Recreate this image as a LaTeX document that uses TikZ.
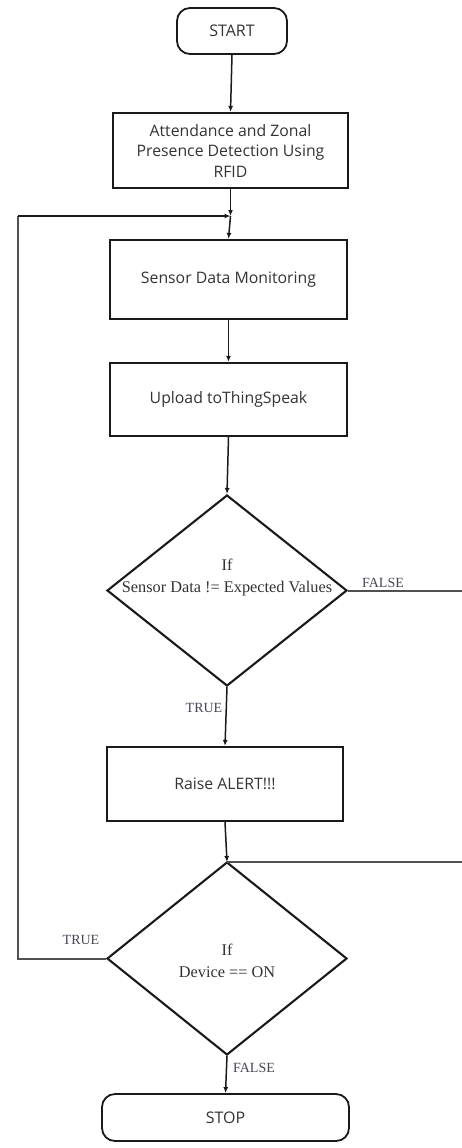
\documentclass[tikz,border=0pt]{standalone}
\usepackage{fontspec}
\setmainfont{Open Sans}
\newfontfamily\serifdia{Liberation Serif}
\usetikzlibrary{shapes.geometric,arrows.meta}
\definecolor{txt}{HTML}{333333}
\definecolor{lbl}{HTML}{454555}
\definecolor{edge}{HTML}{1A1A1A}
\definecolor{loopc}{HTML}{505050}
\begin{document}
\begin{tikzpicture}[x=1pt,y=-1pt,
  procbox/.style={draw=edge,line width=2.2pt,rectangle,inner sep=0pt,text=txt,
    font=\fontsize{15.8}{20.5}\selectfont,align=center},
  termbox/.style={draw=edge,line width=1.8pt,rectangle,rounded corners=13pt,inner sep=0pt,text=txt,
    font=\fontsize{16}{19}\selectfont},
  decbox/.style={draw=edge,line width=2.1pt,diamond,inner sep=0pt,aspect=1.25},
  dectext/.style={text=txt,font=\serifdia\fontsize{16.3}{22}\selectfont,align=center,inner sep=0pt},
  lbltext/.style={text=lbl,font=\serifdia\fontsize{14}{16}\selectfont,inner sep=0pt},
  conn/.style={draw=edge,line width=1.5pt,-{Latex[length=6pt,width=5pt]}},
  plainconn/.style={draw=loopc,line width=2pt}
]
\useasboundingbox (0,0) rectangle (462,1148);
\clip (0,0) rectangle (462,1148);

\node[termbox,minimum width=110pt,minimum height=46pt] (start) at (232,31) {START};
\node[procbox,minimum width=235pt,minimum height=75pt] (rfid) at (230.5,150.5)
  {Attendance and Zonal\\Presence Detection Using\\RFID};
\node[procbox,minimum width=237pt,minimum height=79pt] (sensor) at (228.5,279.5) {Sensor Data Monitoring};
\node[procbox,minimum width=237pt,minimum height=73pt] (upload) at (228.5,399.5) {Upload toThingSpeak};
\node[decbox,minimum width=240pt,minimum height=191pt] (d1) at (227,590.5) {};
\node[dectext] (d1t) at (227,577) {If\\Sensor Data != Expected Values};
\node[procbox,minimum width=236pt,minimum height=74pt] (raise) at (225,784) {Raise ALERT!!!};
\coordinate (merge) at (227,862);
\node[decbox,minimum width=240pt,minimum height=193pt] (d2) at (227,958.5) {};
\node[dectext] (d2t) at (227,961) {If\\Device == ON};
\node[termbox,minimum width=247pt,minimum height=47pt] (stop) at (225.5,1117.5) {STOP};

\node[lbltext] (t1) at (204,708) {TRUE};
\node[lbltext] (f1) at (383,583) {FALSE};
\node[lbltext] (t2) at (81,940) {TRUE};
\node[lbltext] (f2) at (254,1068) {FALSE};

\coordinate (j1) at (230.5,216);
\coordinate (lp) at (18,216);
\coordinate (rp) at (475,862);

\draw[conn] (start.south) -- (rfid.north);
\draw[conn] (rfid.south) -- (j1);
\draw[conn] (j1) -- (sensor.north);
\draw[conn] (sensor.south) -- (upload.north);
\draw[conn] (upload.south) -- (d1.north);
\draw[conn] (d1.south) -- (raise.north);
\draw[conn] (raise.south) -- (merge);
\draw[plainconn] (d1.east) -| (rp);
\draw[plainconn] (rp) -- (merge);
\draw[conn] (d2.south) -- (stop.north);
\draw[plainconn] (d2.west) -| (lp);
\draw[conn] (lp) -- (j1);
\end{tikzpicture}
\end{document}
